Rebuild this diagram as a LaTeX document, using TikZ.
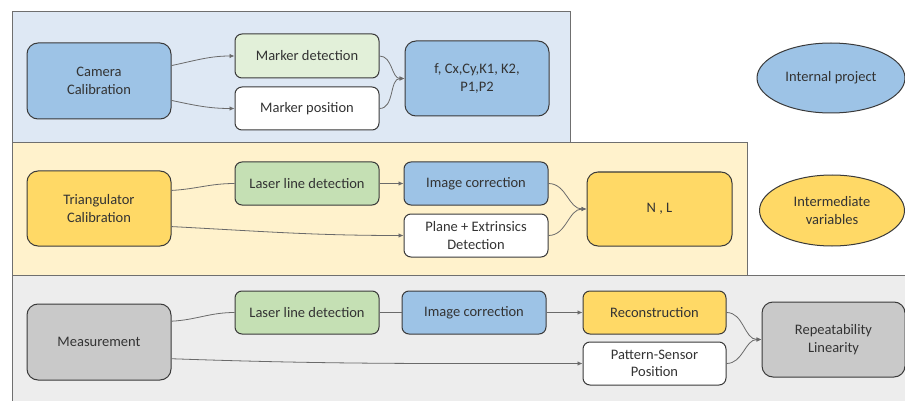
\documentclass[tikz,border=0pt]{standalone}
\usepackage{fontspec}
\setmainfont{Carlito}
\usetikzlibrary{shapes.geometric,arrows.meta}
\definecolor{pblue}{HTML}{DEE8F4}
\definecolor{pyellow}{HTML}{FFF2CC}
\definecolor{pgray}{HTML}{EDEDED}
\definecolor{nblue}{HTML}{9DC3E6}
\definecolor{nlgreen}{HTML}{E2F0D9}
\definecolor{ngreen}{HTML}{C5E0B4}
\definecolor{nyellow}{HTML}{FFD966}
\definecolor{ngray}{HTML}{C9C9C9}
\definecolor{bordc}{HTML}{3A3A3A}
\definecolor{panelc}{HTML}{6F6F6F}
\definecolor{linec}{HTML}{6A6A6A}
\definecolor{txtc}{HTML}{333333}
\tikzset{
  panel/.style={draw=panelc, line width=1pt},
  box/.style={draw=bordc, line width=1pt, rounded corners=7pt, inner sep=0pt,
    minimum width=144pt, minimum height=43pt, align=center, text=txtc,
    font=\fontsize{14.5}{17.5}\selectfont},
  bigbox/.style={box, rounded corners=11pt, minimum height=75pt},
  oval/.style={ellipse, draw=bordc, line width=1pt, inner sep=0pt, align=center,
    text=txtc, font=\fontsize{14.5}{17.5}\selectfont},
  conn/.style={draw=linec, line width=0.8pt},
  arr/.style={conn, -{Latex[length=5pt,width=4.5pt]}},
}
\begin{document}
\begin{tikzpicture}[x=1pt,y=-1pt]
\useasboundingbox (0,0) rectangle (905,401);
\clip (0,0) rectangle (905,401);
\fill[white] (0,0) rectangle (905,401);
% panels
\draw[panel, fill=pgray] (12,275) rectangle (920,420);
\draw[panel, fill=pyellow] (12,143) rectangle (747,275);
\draw[panel, fill=pblue] (12,12) rectangle (570,143);

% row 1
\node[bigbox, fill=nblue, minimum height=76pt] (cam) at (99,81) {Camera\\Calibration};
\node[box, fill=nlgreen, minimum height=44pt] (md) at (307,56) {Marker detection};
\node[box, fill=white] (mp) at (307,108.5) {Marker position};
\node[bigbox, fill=nblue] (par) at (477,78.5) {f, Cx,Cy,K1, K2,\\P1,P2};
\node[oval, fill=nblue, minimum width=148pt, minimum height=70pt] (ip) at (831,78) {Internal project};

% row 2
\node[bigbox, fill=nyellow] (tri) at (99,208.5) {Triangulator\\Calibration};
\node[box, fill=ngreen] (lld1) at (307,183.5) {Laser line detection};
\node[box, fill=nblue] (ic1) at (476,183.5) {Image correction};
\node[box, fill=white] (pe) at (476,235.5) {Plane + Extrinsics\\Detection};
\node[bigbox, fill=nyellow, minimum width=145pt, minimum height=74pt] (nl) at (659.5,209) {N , L};
\node[oval, fill=nyellow, minimum width=145pt, minimum height=71pt] (iv) at (832,210.5) {Intermediate\\variables};

% row 3
\node[bigbox, fill=ngray, minimum height=76pt] (meas) at (99,342) {Measurement};
\node[box, fill=ngreen] (lld2) at (307,312.5) {Laser line detection};
\node[box, fill=nblue] (ic2) at (474,312.5) {Image correction};
\node[box, fill=nyellow, minimum width=143pt] (rec) at (654.5,312.5) {Reconstruction};
\node[box, fill=white, minimum width=143pt] (ps) at (654.5,363.5) {Pattern-Sensor\\Position};
\node[bigbox, fill=ngray, minimum width=143pt] (rep) at (833.5,339.5) {Repeatability\\Linearity};

% connectors row 1
\draw[arr] (cam.12.5) to[out=12,in=180] (md.west);
\draw[arr] (cam.-15) to[out=-12,in=180] (mp.west);
\draw[arr] (md.east) to[out=0,in=180] (par.west);
\draw[arr] (mp.east) to[out=0,in=180] (par.west);

% connectors row 2
\draw[conn] (tri.14) to[out=3,in=180] (lld1.west);
\draw[arr] (tri.-14) to[out=-3,in=180] (pe.west);
\draw[arr] (lld1.east) -- (ic1.west);
\draw[arr] (ic1.east) to[out=0,in=180] (nl.west);
\draw[arr] (pe.east) to[out=0,in=180] (nl.west);

% connectors row 3
\draw[conn] (meas.16) to[out=3,in=180] (lld2.west);
\draw[conn] (lld2.east) -- (ic2.west);
\draw[arr] (ic2.east) -- (rec.west);
\draw[arr] (meas.-13) to[out=-2,in=180] (ps.west);
\draw[arr] (rec.east) to[out=0,in=180] (rep.west);
\draw[arr] (ps.east) to[out=0,in=180] (rep.west);
\end{tikzpicture}
\end{document}
